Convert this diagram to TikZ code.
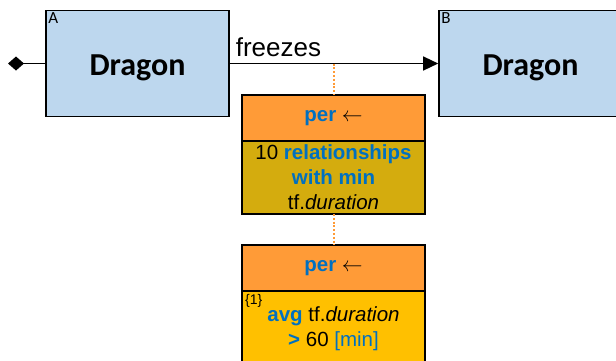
\documentclass[tikz,border=0pt]{standalone}
\usepackage{fontspec}
\setmainfont{Liberation Sans}
\newfontfamily\calibri{Carlito}
\usetikzlibrary{arrows.meta, positioning}

\definecolor{entblue}{RGB}{189,215,238}
\definecolor{perorange}{RGB}{255,155,55}
\definecolor{mustard}{RGB}{212,172,14}
\definecolor{goldbody}{RGB}{255,192,0}
\definecolor{kwblue}{RGB}{0,112,192}

\newcommand{\kw}[1]{\textcolor{kwblue}{\bfseries #1}}

\begin{document}
\begin{tikzpicture}[x=1pt, y=-1pt,
    entbox/.style={draw=black, fill=entblue, line width=1.6pt, minimum width=183pt, minimum height=106pt, inner sep=0pt, text height=29pt, text depth=6pt, font=\calibri\bfseries\fontsize{32}{34}\selectfont},
    cornerlbl/.style={anchor=north west, inner sep=3pt, font=\calibri\fontsize{17}{18}\selectfont},
    perhead/.style={draw=black, fill=perorange, line width=1.4pt, outer sep=0pt, minimum width=183pt, minimum height=46pt, inner sep=0pt, font=\fontsize{20.5}{25}\selectfont},
    perbody/.style={draw=black, line width=1.4pt, outer sep=0pt, minimum width=183pt, inner sep=0pt, align=center, font=\fontsize{20.5}{25}\selectfont},
    arr/.style={-{Triangle[length=15pt, width=14pt]}, line width=1.4pt},
    dotlink/.style={draw=perorange, line width=2pt, dash pattern=on 2pt off 1.8pt}
]
\useasboundingbox (0,0) rectangle (616,360);

\node[entbox] (dragonA) at (137.5,63.5) {Dragon};
\node[entbox] (dragonB) at (530.5,63.5) {Dragon};
\node[cornerlbl] at (dragonA.north west) {A};
\node[cornerlbl] at (dragonB.north west) {B};

\coordinate (tail) at (8,63.5);
\draw[{Diamond[length=16pt, width=14pt]}-, line width=1.4pt] (tail) -- (dragonA);
\draw[arr] (dragonA) -- node[pos=0, above right, xshift=2pt, yshift=3pt, font=\fontsize{26}{30}\selectfont] {freezes} (dragonB);

% per groups
\node[perhead] (perA) at (333.5,118) {\kw{per} $\leftarrow$};
\node[perbody, fill=mustard, minimum height=73pt, below=0pt of perA] (bodyA) {10 \kw{relationships}\\\kw{with min}\\tf.\textit{duration}};
\node[perhead, below=31pt of bodyA] (perB) {\kw{per} $\leftarrow$};
\node[perbody, fill=goldbody, minimum height=76pt, below=0pt of perB] (bodyB) {\kw{avg} tf.\textit{duration}\\\kw{>} 60 \textcolor{kwblue}{[min]}};
\node[cornerlbl, font=\fontsize{14}{15}\selectfont] at (bodyB.north west) {\{1\}};

\coordinate (hook) at (perA.north |- dragonA.east);
\draw[dotlink] (hook) -- (perA);
\draw[dotlink] (bodyA) -- (perB);
\end{tikzpicture}
\end{document}
